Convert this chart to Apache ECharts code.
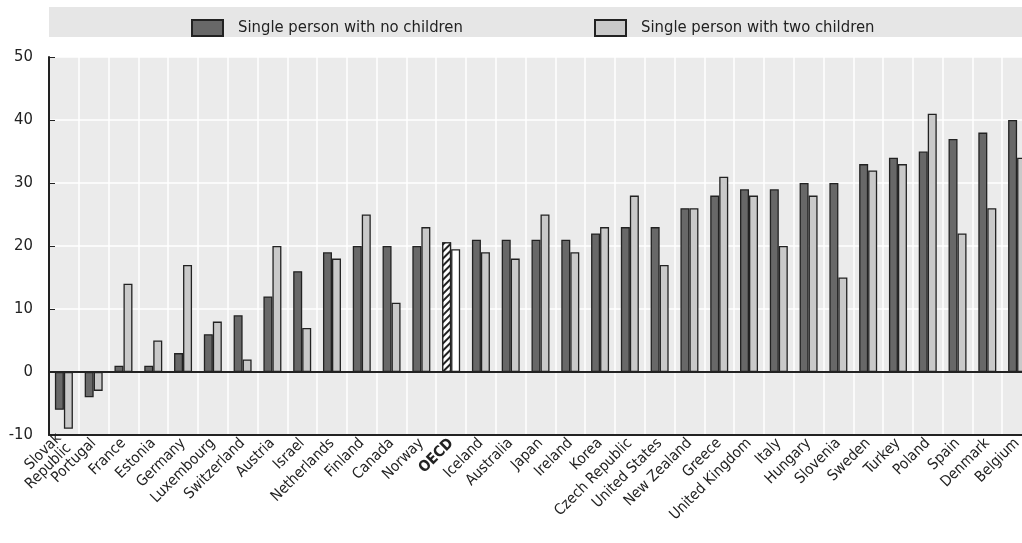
<!DOCTYPE html>
<html>
<head>
<meta charset="utf-8">
<script src="https://cdn.jsdelivr.net/npm/echarts@6/dist/echarts.min.js"></script>
<style>
  html, body { margin: 0; padding: 0; background: #fff; }
  #chart { width: 1022px; height: 543px; }
</style>
</head>
<body>
<div id="chart"></div>
<script>
const countries = ['Slovak\nRepublic', 'Portugal', 'France', 'Estonia', 'Germany', 'Luxembourg',
  'Switzerland', 'Austria', 'Israel', 'Netherlands', 'Finland', 'Canada', 'Norway', 'OECD',
  'Iceland', 'Australia', 'Japan', 'Ireland', 'Korea', 'Czech Republic', 'United States',
  'New Zealand', 'Greece', 'United Kingdom', 'Italy', 'Hungary', 'Slovenia', 'Sweden',
  'Turkey', 'Poland', 'Spain', 'Denmark', 'Belgium'];
const noChildren = [-6, -4, 1, 1, 3, 6, 9, 12, 16, 19, 20, 20, 20, 20.6, 21, 21, 21, 21, 22,
  23, 23, 26, 28, 29, 29, 30, 30, 33, 34, 35, 37, 38, 40];
const twoChildren = [-9, -3, 14, 5, 17, 8, 2, 20, 7, 18, 25, 11, 23, 19.5, 19, 18, 25, 19, 23,
  28, 17, 26, 31, 28, 20, 28, 15, 32, 33, 41, 22, 26, 34];
const yTicks = [-10, 0, 10, 20, 30, 40, 50];

const seriesNames = ['Single person with no children', 'Single person with two children'];
const FONT = "'DejaVu Sans Condensed', 'Liberation Sans Narrow', sans-serif";
const ink = '#222';

// OECD bars get a hatched / white fill
function withOecd(values, special) {
  return values.map((v, i) => countries[i] === 'OECD' ? {value: v, itemStyle: special} : v);
}

const hatch = {
  color: '#fff',
  decal: {
    symbol: 'rect', symbolSize: 1, dashArrayX: [1, 0], dashArrayY: [1.2, 3],
    rotation: -Math.PI / 4, color: ink, backgroundColor: '#fff'
  }
};

const chart = echarts.init(document.getElementById('chart'));
chart.setOption({
  animation: false,
  textStyle: {fontFamily: FONT},
  graphic: [{
    type: 'rect', left: 49, top: 7, shape: {width: 973, height: 30},
    style: {fill: '#e6e6e6'}, z: -1
  }],
  legend: [0, 1].map((k) => ({
    data: [seriesNames[k]],
    left: k === 0 ? 186 : 589,
    top: 14,
    icon: 'rect',
    itemWidth: 31,
    itemHeight: 16,
    textStyle: {fontSize: 16.5, color: ink, fontFamily: FONT, padding: [0, 0, 0, 10]}
  })),
  grid: {
    left: 49, width: 983, top: 57, bottom: 108,
    outerBoundsMode: 'none',
    show: true, backgroundColor: '#ebebeb', borderWidth: 0
  },
  xAxis: [{
    type: 'category',
    data: countries,
    axisLine: {onZero: false, lineStyle: {color: ink, width: 2}},
    axisTick: {inside: true, length: 5, lineStyle: {color: ink}},
    splitLine: {show: true, lineStyle: {color: '#fff', width: 1.5}},
    axisLabel: {
      interval: 0, rotate: 45, margin: 6, fontSize: 15, color: ink, lineHeight: 14,
      formatter: (v) => v === 'OECD' ? '{b|OECD}' : v,
      rich: {b: {fontWeight: 'bold', fontSize: 15, color: ink, fontFamily: FONT}}
    }
  }, {
    type: 'category',
    data: countries,
    position: 'top',
    axisLine: {lineStyle: {color: ink, width: 2}},
    axisTick: {show: false},
    axisLabel: {show: false}
  }],
  yAxis: {
    type: 'value',
    min: yTicks[0], max: yTicks[yTicks.length - 1], interval: 10,
    axisLine: {show: true, lineStyle: {color: ink, width: 2}},
    axisTick: {show: true, inside: true, length: 6, lineStyle: {color: ink}},
    splitLine: {lineStyle: {color: '#fff', width: 1.5}},
    axisLabel: {fontSize: 16.5, color: ink, margin: 16}
  },
  series: [{
    name: seriesNames[0],
    type: 'bar',
    barWidth: 9,
    barGap: '0%',
    data: withOecd(noChildren, hatch),
    itemStyle: {color: '#686868', borderColor: ink, borderWidth: 1.3},
    markLine: {
      silent: true, symbol: 'none', label: {show: false},
      lineStyle: {color: ink, width: 2, type: 'solid'},
      data: [{yAxis: 0}]
    }
  }, {
    name: seriesNames[1],
    type: 'bar',
    barWidth: 9,
    barGap: '0%',
    data: withOecd(twoChildren, {color: '#fff'}),
    itemStyle: {color: '#c9c9c9', borderColor: ink, borderWidth: 1.3}
  }]
});
</script>
</body>
</html>
